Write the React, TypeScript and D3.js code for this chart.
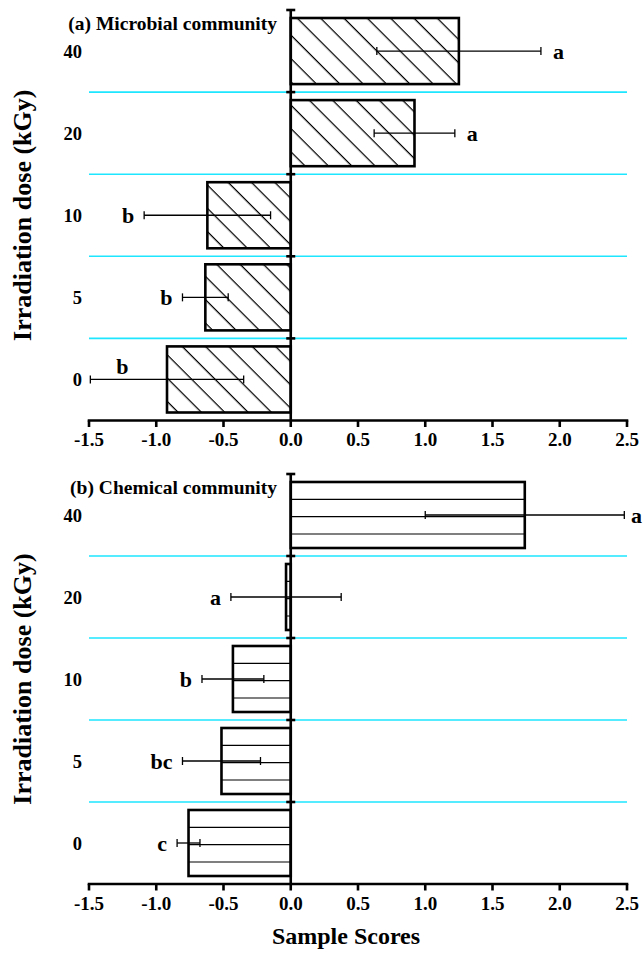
import React from "react";
import * as d3 from "d3";

const doses = ["40", "20", "10", "5", "0"];
const xTicks = [-1.5, -1.0, -0.5, 0.0, 0.5, 1.0, 1.5, 2.0, 2.5];

// values listed in the order of doses: 40, 20, 10, 5, 0
const microMean = [1.25, 0.92, -0.62, -0.635, -0.92];
const microErr = [0.61, 0.3, 0.47, 0.17, 0.57];
const microLetters = ["a", "a", "b", "b", "b"];

const chemMean = [1.74, -0.035, -0.43, -0.515, -0.76];
const chemErr = [0.74, 0.41, 0.23, 0.29, 0.085];
const chemLetters = ["a", "a", "b", "bc", "c"];

const panels = [
  { title: "(a) Microbial community", mean: microMean, err: microErr, letters: microLetters, hatch: "diag", top: 10, bottom: 420.5 },
  { title: "(b) Chemical community", mean: chemMean, err: chemErr, letters: chemLetters, hatch: "horiz", top: 474, bottom: 884 },
];

const FONT = "'Liberation Serif', 'Times New Roman', serif";

const x = d3.scaleLinear().domain([-1.5, 2.5]).range([89, 627]);
const fmt = (t: number) => d3.format(".1f")(t).replace("\u2212", "-");

function Panel({ p, idx }: { p: any; idx: number }) {
  const y = d3
    .scaleBand<string>()
    .domain(doses)
    .range([p.top, p.bottom])
    .paddingInner(0.195)
    .paddingOuter(0.0975);
  const step = y.step();
  const bw = y.bandwidth();
  const x0 = x(0);
  const boundaries = doses.map((d) => (y(d) as number) - (step - bw) / 2);
  const clipBase = `clip-${idx}`;
  return (
    <g>
      {boundaries.slice(1).map((b, i) => (
        <line key={"c" + i} x1={x(-1.5)} x2={x(2.5)} y1={b} y2={b} stroke="#1ee6ff" strokeWidth={1.6} />
      ))}
      {doses.map((d, i) => {
        const v = p.mean[i];
        const bx = Math.min(x(v), x0);
        const w = Math.abs(x(v) - x0);
        const by = y(d) as number;
        const lines: number[] = [];
        if (p.hatch === "horiz") {
          for (let k = 1; k * 17.33 < bw - 2; k++) lines.push(by + k * 17.33);
        }
        return (
          <g key={"b" + d}>
            <clipPath id={`${clipBase}-${i}`}>
              <rect x={bx} y={by} width={w} height={bw} />
            </clipPath>
            <rect x={bx} y={by} width={w} height={bw} fill="white" />
            {p.hatch === "diag" ? (
              <rect x={bx} y={by} width={w} height={bw} fill="url(#diagHatch)" />
            ) : (
              <g clipPath={`url(#${clipBase}-${i})`}>
                {lines.map((ly, k) => (
                  <line key={k} x1={bx} x2={bx + w} y1={ly} y2={ly} stroke="#000" strokeWidth={1.2} />
                ))}
              </g>
            )}
            <rect x={bx} y={by} width={w} height={bw} fill="none" stroke="#000" strokeWidth={2.6} />
          </g>
        );
      })}
      {doses.map((d, i) => {
        const v = p.mean[i];
        const e = p.err[i];
        const cy = (y(d) as number) + bw / 2;
        const xs = x(v - e);
        const xe = x(v + e);
        const letter = p.letters[i];
        let lx: number, ly: number, anchor: string;
        if (v >= 0) {
          lx = Math.min(xe + 12, 631);
          ly = cy + 8;
          anchor = "start";
        } else if (xs - 24 < x(-1.5)) {
          lx = xs + 32;
          ly = cy - 5;
          anchor = "middle";
        } else {
          lx = xs - 10;
          ly = cy + 8;
          anchor = "end";
        }
        return (
          <g key={"e" + d}>
            <line x1={xs} x2={xe} y1={cy} y2={cy} stroke="#000" strokeWidth={1.3} />
            <line x1={xs} x2={xs} y1={cy - 4} y2={cy + 4} stroke="#000" strokeWidth={1.3} />
            <line x1={xe} x2={xe} y1={cy - 4} y2={cy + 4} stroke="#000" strokeWidth={1.3} />
            <text x={lx} y={ly} textAnchor={anchor as any} fontFamily={FONT} fontWeight="bold" fontSize={22}>
              {letter}
            </text>
          </g>
        );
      })}
      <line x1={x0} x2={x0} y1={p.top} y2={p.bottom} stroke="#000" strokeWidth={2.6} />
      <line x1={x0 - 4.5} x2={x0 + 4.5} y1={p.top} y2={p.top} stroke="#000" strokeWidth={2.6} />
      {boundaries.slice(1).map((b, i) => (
        <line key={"t" + i} x1={x0 - 4.5} x2={x0 + 4.5} y1={b} y2={b} stroke="#000" strokeWidth={2.6} />
      ))}
      {doses.map((d) => (
        <text
          key={"yl" + d}
          x={82}
          y={(y(d) as number) + bw / 2 + 6.5}
          textAnchor="end"
          fontFamily={FONT}
          fontWeight="bold"
          fontSize={18.5}
        >
          {d}
        </text>
      ))}
      <line x1={x(-1.5) - 1.3} x2={x(2.5) + 1.3} y1={p.bottom} y2={p.bottom} stroke="#000" strokeWidth={2.6} />
      {xTicks.map((t) => (
        <g key={"xt" + t}>
          <line x1={x(t)} x2={x(t)} y1={p.bottom} y2={p.bottom + 6.5} stroke="#000" strokeWidth={2.6} />
          <text x={x(t)} y={p.bottom + 25.5} textAnchor="middle" fontFamily={FONT} fontWeight="bold" fontSize={19}>
            {fmt(t)}
          </text>
        </g>
      ))}
      <text x={277} y={p.top + 20} textAnchor="end" fontFamily={FONT} fontWeight="bold" fontSize={19.5}>
        {p.title}
      </text>
      <text
        transform={`translate(22,${(p.top + p.bottom) / 2}) rotate(-90)`}
        textAnchor="middle"
        dominantBaseline="central"
        fontFamily={FONT}
        fontWeight="bold"
        fontSize={26}
      >
        Irradiation dose (kGy)
      </text>
    </g>
  );
}

export default function App() {
  return (
    <svg
      width={643}
      height={953}
      style={{ position: "absolute", left: 0, top: 0, display: "block", background: "#fff" }}
    >
      <defs>
        <pattern
          id="diagHatch"
          patternUnits="userSpaceOnUse"
          width={16.5}
          height={16.5}
          patternTransform="rotate(45)"
        >
          <line x1={0} x2={16.5} y1={0.6} y2={0.6} stroke="#000" strokeWidth={1.3} />
        </pattern>
      </defs>
      <rect x={0} y={0} width={643} height={953} fill="#fff" />
      {panels.map((p, i) => (
        <Panel key={i} p={p} idx={i} />
      ))}
      <text x={346} y={944} textAnchor="middle" fontFamily={FONT} fontWeight="bold" fontSize={24}>
        Sample Scores
      </text>
    </svg>
  );
}
